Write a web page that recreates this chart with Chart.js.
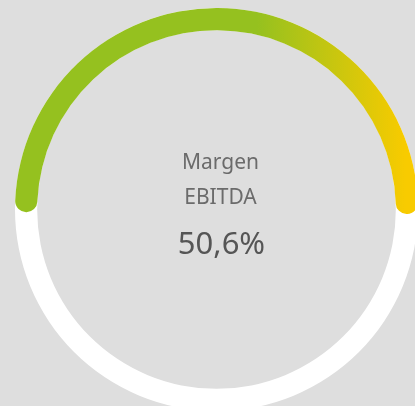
<!DOCTYPE html>
<html>
<head>
<meta charset="utf-8">
<script src="https://cdn.jsdelivr.net/npm/chart.js@4/dist/chart.umd.min.js"></script>
<style>
  html, body { margin: 0; padding: 0; background: #dedede; overflow: hidden; }
  #wrap { position: relative; width: 415px; height: 406px; overflow: hidden; background: #dedede; }
  #gauge { position: absolute; left: 15px; top: 8px; }
</style>
</head>
<body>
<div id="wrap">
  <canvas id="gauge" width="403" height="403"></canvas>
</div>
<script>
// gauge data
var labels = ["Margen EBITDA", "Resto"];
var values = [50.6, 49.4];
var titleLines = ["Margen", "EBITDA"];
var valueText = "50,6%";

var green = "#95c11f";
var yellow = "#f8cb00";

function arcFill(context) {
  var chart = context.chart;
  var area = chart.chartArea;
  if (!area) return green;
  if (context.dataIndex == 1) return "rgba(0,0,0,0)";
  var g = chart.ctx.createLinearGradient(area.left, 0, area.right, 0);
  g.addColorStop(0, green);
  g.addColorStop(0.6, green);
  g.addColorStop(0.97, yellow);
  g.addColorStop(1, yellow);
  return g;
}

// full white ring under the coloured arc
var ringPlugin = {
  id: "ring",
  beforeDatasetsDraw: function(chart) {
    var arc = chart.getDatasetMeta(0).data[0];
    var ctx = chart.ctx;
    ctx.save();
    ctx.beginPath();
    ctx.arc(arc.x, arc.y, arc.outerRadius, 0, Math.PI * 2);
    ctx.arc(arc.x, arc.y, arc.innerRadius, Math.PI * 2, 0, true);
    ctx.closePath();
    ctx.fillStyle = "#ffffff";
    ctx.fill();
    ctx.restore();
  }
};

// text in the middle
var centerText = {
  id: "centerText",
  afterDraw: function(chart) {
    var arc = chart.getDatasetMeta(0).data[0];
    var ctx = chart.ctx;
    var cx = arc.x + 4;
    ctx.save();
    ctx.textAlign = "center";
    ctx.textBaseline = "alphabetic";
    ctx.fillStyle = "#6b6b6b";
    ctx.font = "21px 'Noto Sans'";
    ctx.fillText(titleLines[0], cx, arc.y - 41);
    ctx.fillText(titleLines[1], cx, arc.y - 6);
    ctx.fillStyle = "#555555";
    ctx.font = "31px 'Noto Sans'";
    ctx.fillText(valueText, cx + 1, arc.y + 44);
    ctx.restore();
  }
};

new Chart("gauge", {
  type: "doughnut",
  data: {
    labels: labels,
    datasets: [{
      data: values,
      backgroundColor: arcFill,
      borderWidth: 0,
      borderRadius: 11,
      hoverOffset: 0
    }]
  },
  options: {
    responsive: false,
    animation: false,
    cutout: "89%",
    rotation: -90.8,
    circumference: 360,
    layout: { padding: 0 },
    events: [],
    plugins: {
      legend: { display: false },
      tooltip: { enabled: false }
    }
  },
  plugins: [ringPlugin, centerText]
});
</script>
</body>
</html>
